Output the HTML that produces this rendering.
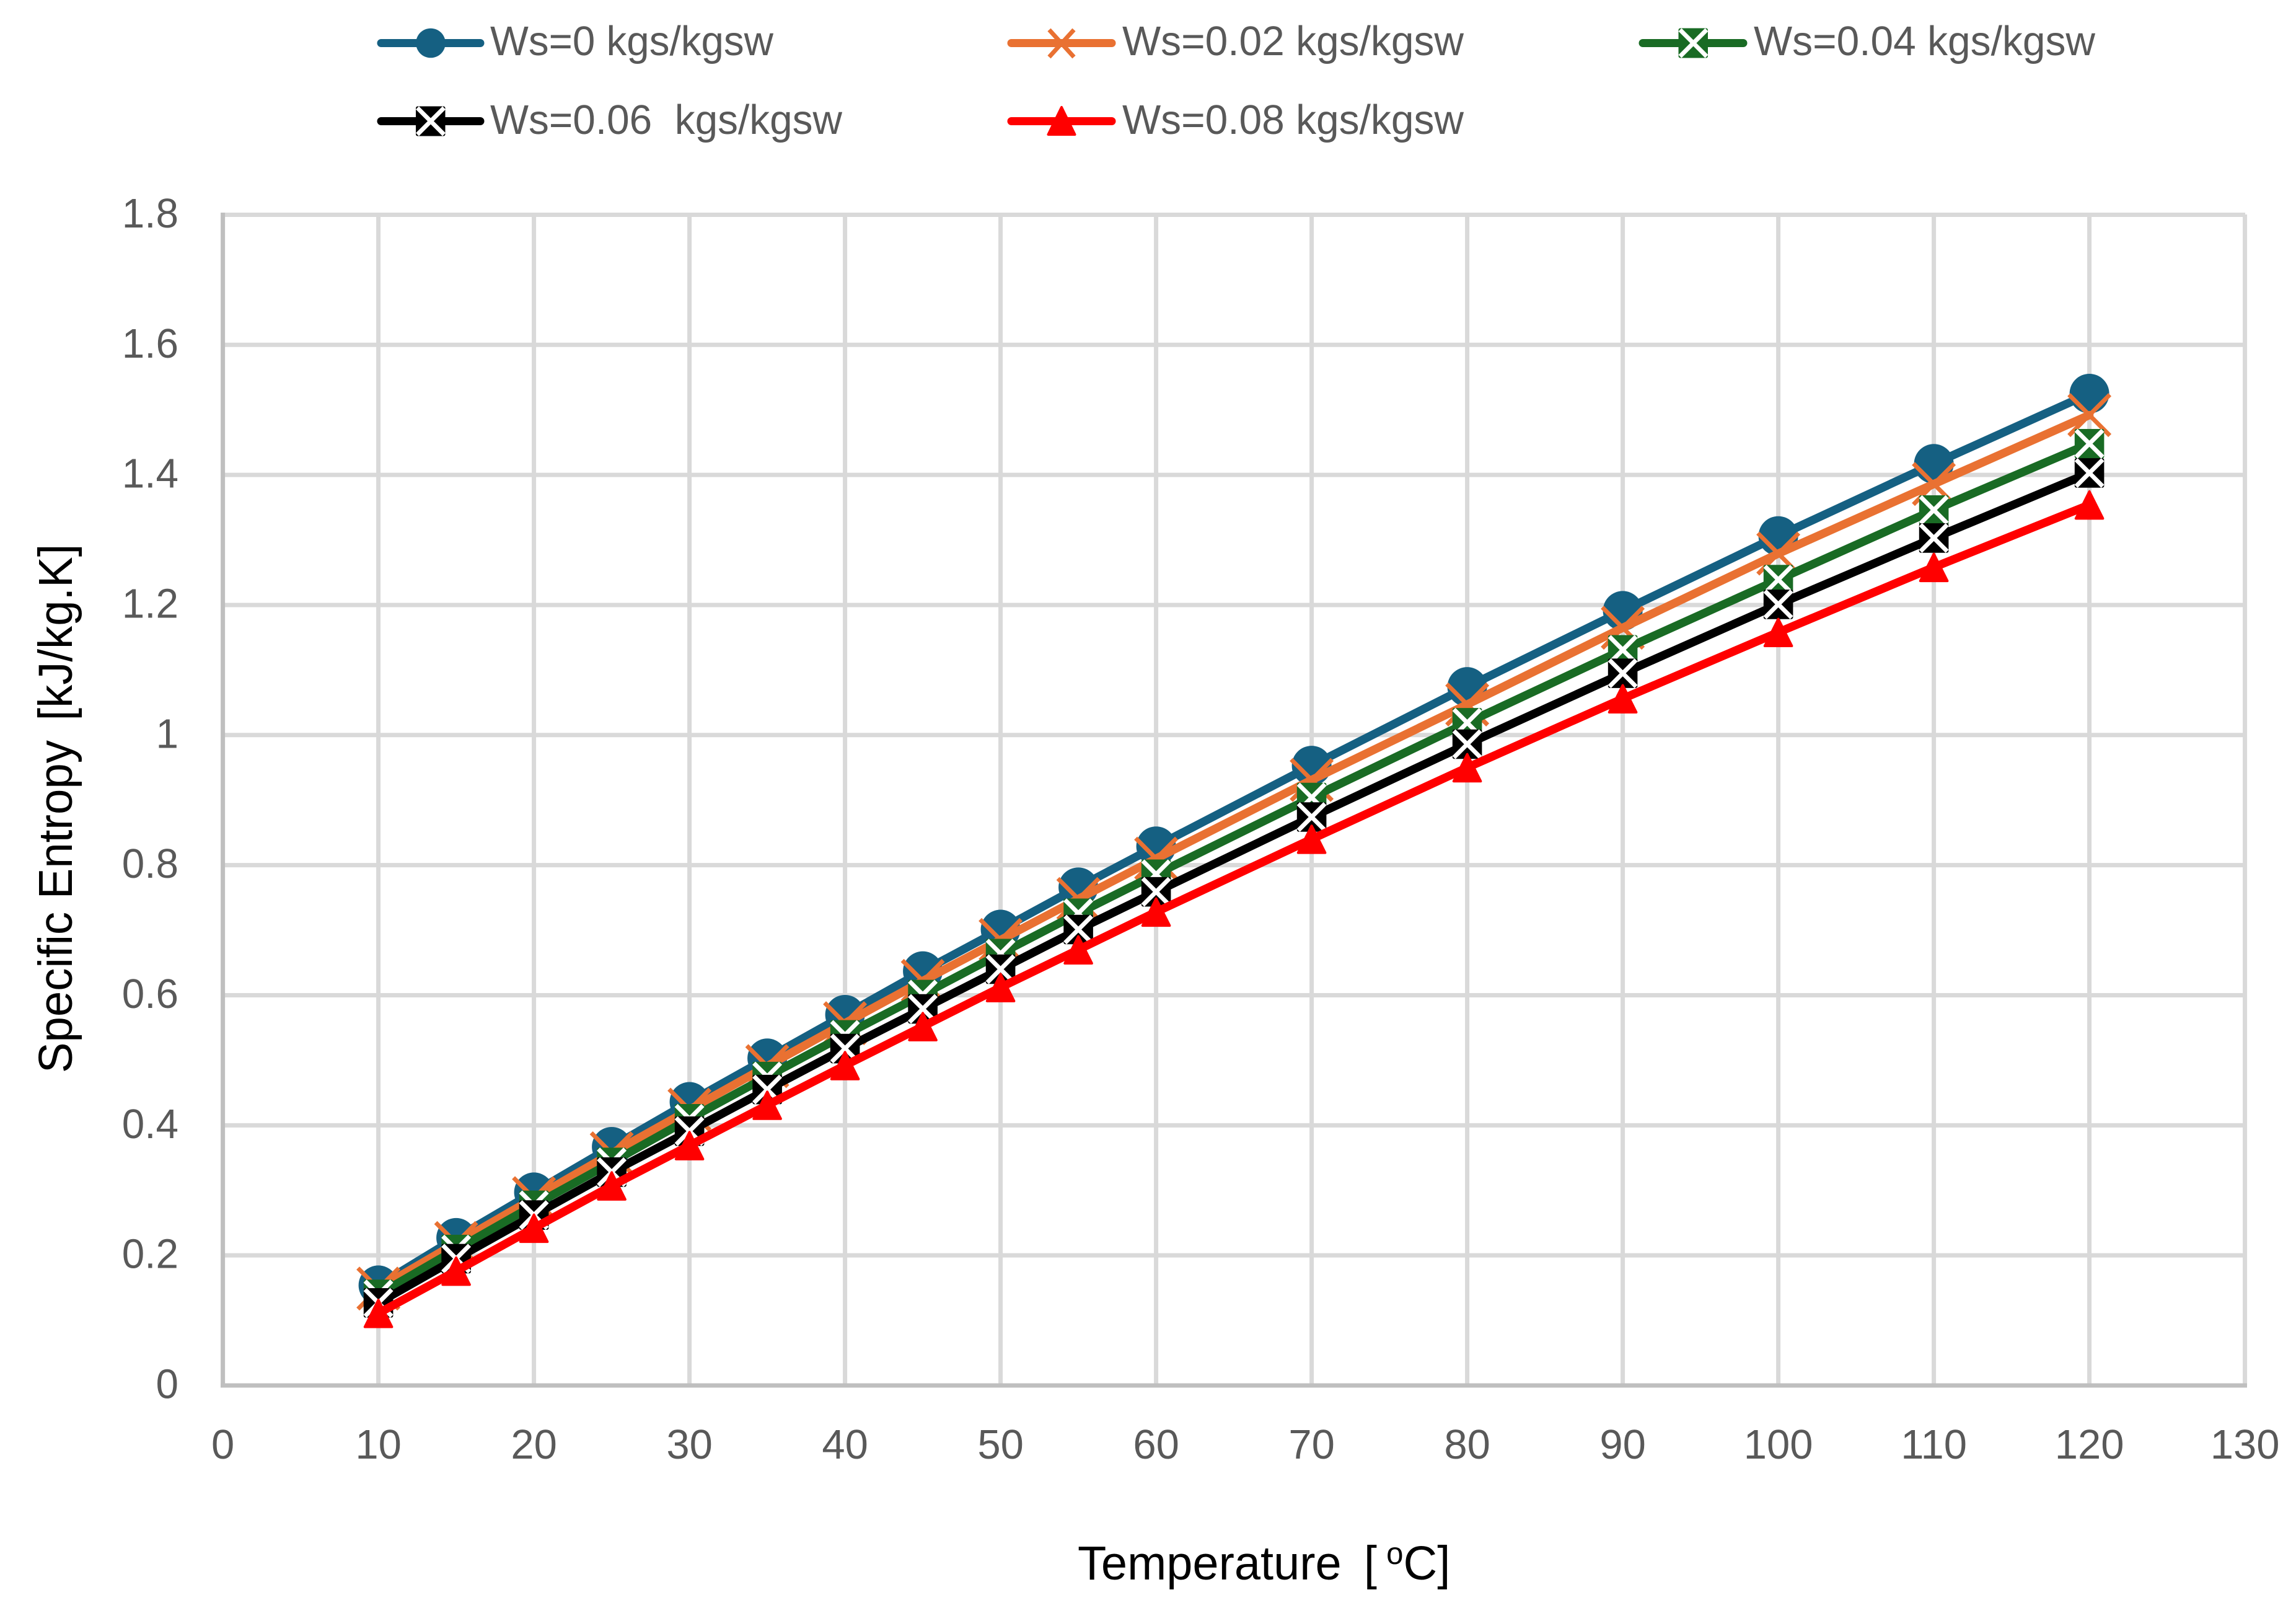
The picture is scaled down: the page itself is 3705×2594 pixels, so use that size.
<!DOCTYPE html>
<html lang="en">
<head>
<meta charset="utf-8">
<title>Specific Entropy vs Temperature</title>
<style>
html,body{margin:0;padding:0;background:#fff;width:3705px;height:2594px;overflow:hidden}
svg{display:block}
text{font-family:"Liberation Sans",sans-serif;white-space:pre}
.tick{font-size:67px;fill:#595959}
.leg{font-size:67px;fill:#595959}
.title{font-size:77px;fill:#000}
</style>
</head>
<body>
<svg id="chart" xmlns="http://www.w3.org/2000/svg" width="3705" height="2594" viewBox="0 0 3705 2594">
  <rect x="0" y="0" width="3705" height="2594" fill="#fff"/>
  <g id="grid"></g>
  <g id="axes"></g>
  <g id="ticks"></g>
  <g id="plot"></g>

  <text class="title" xml:space="preserve" transform="translate(1739,2548) scale(0.985,1)">Temperature  <tspan dx="-6">[ </tspan><tspan font-size="50" dx="-6" dy="-25">o</tspan><tspan dy="25">C]</tspan></text>
  <text class="title" xml:space="preserve" transform="translate(116,1731) rotate(-90) scale(0.965,1)">Specific Entropy  <tspan dx="-10">[kJ/kg.K]</tspan></text>

  <g>
    <g>
      <line x1="615" y1="69.5" x2="775" y2="69.5" stroke="#156082" stroke-width="13" stroke-linecap="round"/>
      <circle cx="695" cy="69.5" r="23.8" fill="#156082"/>
      <text class="leg" x="791" y="89" textLength="457" lengthAdjust="spacingAndGlyphs">Ws=0 kgs/kgsw</text>
    </g>
    <g>
      <line x1="1632" y1="69.5" x2="1794" y2="69.5" stroke="#E97132" stroke-width="13" stroke-linecap="round"/>
      <path d="M1693 48L1733 92M1733 48L1693 92" stroke="#E97132" stroke-width="7" fill="none"/>
      <text class="leg" x="1811" y="89" textLength="551" lengthAdjust="spacingAndGlyphs">Ws=0.02 kgs/kgsw</text>
    </g>
    <g>
      <line x1="2651" y1="69.5" x2="2813" y2="69.5" stroke="#196B24" stroke-width="13" stroke-linecap="round"/>
      <rect x="2708.5" y="45.5" width="47.5" height="48" rx="3" fill="#196B24"/>
      <path d="M2711 48L2754 91M2754 48L2711 91" stroke="#fff" stroke-width="7" fill="none"/>
      <text class="leg" x="2830" y="89" textLength="551" lengthAdjust="spacingAndGlyphs">Ws=0.04 kgs/kgsw</text>
    </g>
    <g>
      <line x1="615" y1="195.5" x2="775" y2="195.5" stroke="#000" stroke-width="13" stroke-linecap="round"/>
      <rect x="671" y="171.5" width="47.5" height="48" rx="3" fill="#000"/>
      <path d="M673.5 174L716.5 217M716.5 174L673.5 217" stroke="#fff" stroke-width="7" fill="none"/>
      <text class="leg" xml:space="preserve" x="791" y="216" textLength="568" lengthAdjust="spacingAndGlyphs">Ws=0.06  kgs/kgsw</text>
    </g>
    <g>
      <line x1="1632" y1="195.5" x2="1794" y2="195.5" stroke="#FF0000" stroke-width="13" stroke-linecap="round"/>
      <path d="M1713 173L1691.5 217H1734.5Z" fill="#FF0000" stroke="#FF0000" stroke-width="4" stroke-linejoin="round"/>
      <text class="leg" x="1811" y="216" textLength="551" lengthAdjust="spacingAndGlyphs">Ws=0.08 kgs/kgsw</text>
    </g>
  </g>
</svg>
<script>
const temperatures = [10,15,20,25,30,35,40,45,50,55,60,70,80,90,100,110,120];
const ws0Values   = [0.154,0.227,0.297,0.367,0.436,0.503,0.570,0.637,0.701,0.766,0.829,0.953,1.074,1.191,1.306,1.417,1.525];
const ws002Values = [0.149,0.219,0.288,0.357,0.424,0.491,0.557,0.622,0.685,0.748,0.810,0.931,1.047,1.165,1.279,1.386,1.492];
const ws004Values = [0.140,0.209,0.277,0.343,0.410,0.475,0.539,0.601,0.664,0.726,0.786,0.904,1.019,1.131,1.239,1.346,1.448];
const ws006Values = [0.127,0.195,0.262,0.328,0.391,0.455,0.518,0.579,0.640,0.701,0.759,0.874,0.986,1.095,1.201,1.303,1.403];
const ws008Values = [0.111,0.176,0.242,0.307,0.369,0.431,0.492,0.552,0.612,0.670,0.728,0.840,0.950,1.056,1.158,1.258,1.354];
const xTickLabels = [0,10,20,30,40,50,60,70,80,90,100,110,120,130];
const yTickLabels = ["0","0.2","0.4","0.6","0.8","1","1.2","1.4","1.6","1.8"];

const NS = 'http://www.w3.org/2000/svg';
function xScale(v){ return 359.6 + v * 25.1; }
function yScale(v){ return 2235 - v * 1049.2; }
function make(tag, parent, attrs){
  const el = document.createElementNS(NS, tag);
  for (const k in attrs) el.setAttribute(k, attrs[k]);
  parent.appendChild(el);
  return el;
}

const gridG = document.getElementById('grid');
const axesG = document.getElementById('axes');
const ticksG = document.getElementById('ticks');
const plotG = document.getElementById('plot');

xTickLabels.forEach(function(t){
  if (t !== 0) {
    const g = make('line', gridG, {x1:xScale(t), x2:xScale(t), y1:346, y2:2235, stroke:'#D9D9D9', 'stroke-width':7});
    
    
  }
  const lab = make('text', ticksG, {class:'tick', 'text-anchor':'middle', transform:'translate(' + xScale(t) + ',2353) scale(1,1)'});
  lab.textContent = String(t);
  
  
});

yTickLabels.forEach(function(t){
  const v = parseFloat(t);
  if (v !== 0) {
    const g = make('line', gridG, {x1:359.6, x2:3623, y1:yScale(v), y2:yScale(v), stroke:'#D9D9D9', 'stroke-width':7});
    
    
  }
  const lab = make('text', ticksG, {class:'tick', 'text-anchor':'end', transform:'translate(288,' + (yScale(v) + 20.5) + ') scale(0.98,1)'});
  lab.textContent = t;
  
  
});

const yAxis = make('line', axesG, {x1:359.6, x2:359.6, y1:343, y2:2238.5, stroke:'#BFBFBF', 'stroke-width':7});


const xAxis = make('line', axesG, {x1:356, x2:3626, y1:2235, y2:2235, stroke:'#BFBFBF', 'stroke-width':7});



function drawMarker(parent, kind, color, cx, cy){
  if (kind === 'circle') {
    make('circle', parent, {cx:cx, cy:cy, r:32, fill:color});
  } else if (kind === 'cross') {
    make('path', parent, {d:'M'+(cx-33)+' '+(cy-33)+'L'+(cx+33)+' '+(cy+33)+'M'+(cx+33)+' '+(cy-33)+'L'+(cx-33)+' '+(cy+33), stroke:color, 'stroke-width':7, fill:'none'});
  } else if (kind === 'xsquare') {
    make('rect', parent, {x:cx-23.8, y:cy-23.8, width:47.6, height:47.6, rx:3, fill:color});
    make('path', parent, {d:'M'+(cx-21.5)+' '+(cy-21.5)+'L'+(cx+21.5)+' '+(cy+21.5)+'M'+(cx+21.5)+' '+(cy-21.5)+'L'+(cx-21.5)+' '+(cy+21.5), stroke:'#fff', 'stroke-width':7, fill:'none'});
  } else if (kind === 'triangle') {
    make('path', parent, {d:'M'+cx+' '+(cy-21.5)+'L'+(cx-21.8)+' '+(cy+22)+'H'+(cx+21.8)+'Z', fill:color, stroke:color, 'stroke-width':4, 'stroke-linejoin':'round'});
  }
}

function drawSeries(name, values, color, kind){
  const g = make('g', plotG, {});
  
  
  const pts = temperatures.map(function(t, i){ return xScale(t) + ',' + yScale(values[i]); }).join(' ');
  const line = make('polyline', g, {points:pts, fill:'none', stroke:color, 'stroke-width':13.5, 'stroke-linejoin':'round', 'stroke-linecap':'round'});
  
  
  temperatures.forEach(function(t, i){
    const m = make('g', g, {});
    
    
    drawMarker(m, kind, color, xScale(t), yScale(values[i]));
  });
}

drawSeries('series-ws-0', ws0Values, '#156082', 'circle');
drawSeries('series-ws-0-02', ws002Values, '#E97132', 'cross');
drawSeries('series-ws-0-04', ws004Values, '#196B24', 'xsquare');
drawSeries('series-ws-0-06', ws006Values, '#000000', 'xsquare');
drawSeries('series-ws-0-08', ws008Values, '#FF0000', 'triangle');
</script>
</body>
</html>
